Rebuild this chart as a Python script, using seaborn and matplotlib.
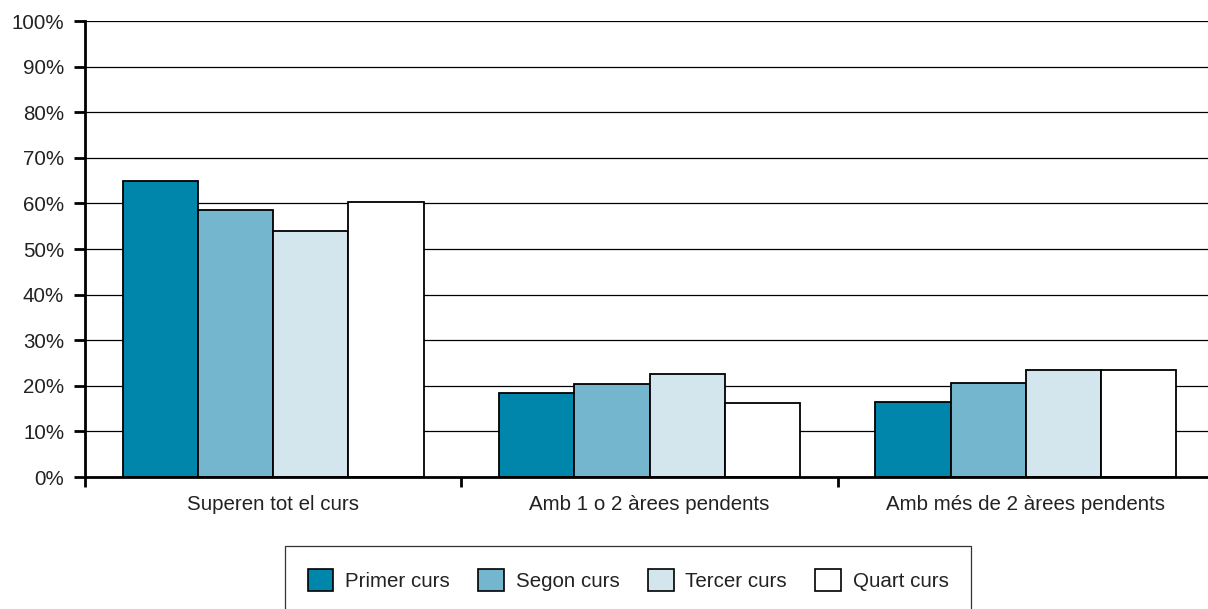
import pandas as pd
import matplotlib.pyplot as plt
import seaborn as sns
from matplotlib.ticker import FixedLocator, PercentFormatter
from matplotlib.patches import Patch

# dades
categories = ['Superen tot el curs', 'Amb 1 o 2 àrees pendents', 'Amb més de 2 àrees pendents']
cursos = ['Primer curs', 'Segon curs', 'Tercer curs', 'Quart curs']
primer = [65.0, 18.4, 16.4]
segon = [58.6, 20.5, 20.7]
tercer = [53.9, 22.6, 23.4]
quart = [60.3, 16.3, 23.4]
colors = ['#0086aa', '#74b6cd', '#d3e6ed', '#ffffff']

rows = []
for curs, vals in zip(cursos, [primer, segon, tercer, quart]):
    for cat, v in zip(categories, vals):
        rows.append({'categoria': cat, 'curs': curs, 'valor': v})
df = pd.DataFrame(rows)

sns.set_style('white')
plt.rcParams['font.family'] = ['Liberation Sans', 'DejaVu Sans']
FS = 14.8

fig = plt.figure(figsize=(12.08, 6.09), dpi=100)
ax = fig.add_axes([0.0704, 0.2167, 0.9346, 0.7488])

sns.barplot(data=df, x='categoria', y='valor', hue='curs', order=categories,
            hue_order=cursos, palette=colors, width=0.8, edgecolor='black',
            linewidth=1.3, saturation=1, ax=ax, legend=False, zorder=3)

ax.set_ylim(0, 100)
ax.set_xlim(-0.5, 2.5)
ax.set_yticks(range(0, 101, 10))
ax.yaxis.set_major_formatter(PercentFormatter(decimals=0))
ax.yaxis.grid(True, color='black', linewidth=0.9)
ax.set_axisbelow(True)
ax.set_xlabel('')
ax.set_ylabel('')

for s in ['top', 'right']:
    ax.spines[s].set_visible(False)
for s in ['left', 'bottom']:
    ax.spines[s].set_linewidth(2)
    ax.spines[s].set_color('black')
ax.spines['bottom'].set_zorder(5)

ax.tick_params(axis='y', direction='out', length=8, width=2, color='black',
               labelsize=FS, labelcolor='#222222', pad=7, left=True)
ax.tick_params(axis='x', which='major', length=0, labelsize=FS,
               labelcolor='#222222', pad=13)
ax.xaxis.set_minor_locator(FixedLocator([-0.5, 0.5, 1.5, 2.5]))
ax.tick_params(axis='x', which='minor', direction='out', length=7, width=2,
               color='black', bottom=True)

handles = [Patch(facecolor=c, edgecolor='black', linewidth=1.2) for c in colors]
leg = fig.legend(handles, cursos, loc='center', bbox_to_anchor=(0.520, 0.0476),
                 ncol=4, frameon=True, fancybox=False, fontsize=FS,
                 handlelength=1.26, handleheight=1.26, handletextpad=0.58,
                 columnspacing=1.36, borderpad=1.1)
leg.get_frame().set_edgecolor('black')
leg.get_frame().set_linewidth(0.9)
for t in leg.get_texts():
    t.set_color('#222222')

fig.savefig('out.png', dpi=100)
